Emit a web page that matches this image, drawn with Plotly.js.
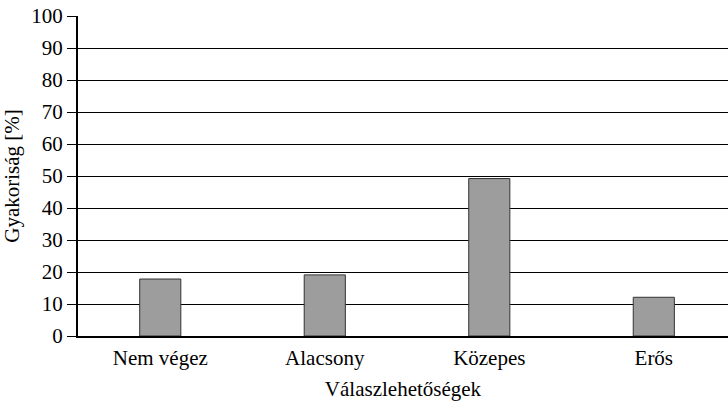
<!DOCTYPE html>
<html>
<head>
<meta charset="utf-8">
<script src="https://cdn.plot.ly/plotly-3.0.1.min.js"></script>
<style>html,body{margin:0;padding:0;background:#fff;}#chart{width:728px;height:403px;}</style>
</head>
<body>
<div id="chart"></div>
<script>
const categories = ["Nem végez", "Alacsony", "Közepes", "Erős"];
const values = [17.8, 19.1, 49.2, 12.1];
const yTicks = [0, 10, 20, 30, 40, 50, 60, 70, 80, 90, 100];
const xTitle = "Válaszlehetőségek";
const yTitle = "Gyakoriság [%]";

const font = {family: "Liberation Serif", size: 21, color: "#000"};

Plotly.newPlot("chart", [{
  type: "bar",
  x: [0, 1, 2, 3],
  y: values,
  width: 0.25,
  marker: {color: "#9d9d9d", line: {color: "#333", width: 1}},
  hoverinfo: "none"
}], {
  width: 728, height: 403,
  margin: {l: 78, r: 0, t: 16, b: 67},
  paper_bgcolor: "#fff", plot_bgcolor: "#fff",
  font: font,
  showlegend: false,
  xaxis: {
    range: [-0.5, 3.451],
    tickvals: [0, 1, 2, 3],
    ticktext: categories,
    ticks: "",
    ticklabelstandoff: 2,
    showgrid: false,
    zeroline: false,
    showline: true, linecolor: "#000", linewidth: 2,
    tickfont: font,
    title: {text: xTitle, font: font, standoff: 12}
  },
  yaxis: {
    range: [0, 100],
    tickvals: yTicks,
    ticks: "outside", ticklen: 9, tickcolor: "#000", tickwidth: 1,
    showgrid: true, gridcolor: "#000", gridwidth: 1,
    zeroline: false,
    showline: true, linecolor: "#000", linewidth: 2,
    tickfont: font,
    title: {text: yTitle, font: font, standoff: 6}
  }
}, {staticPlot: true});
</script>
</body>
</html>
